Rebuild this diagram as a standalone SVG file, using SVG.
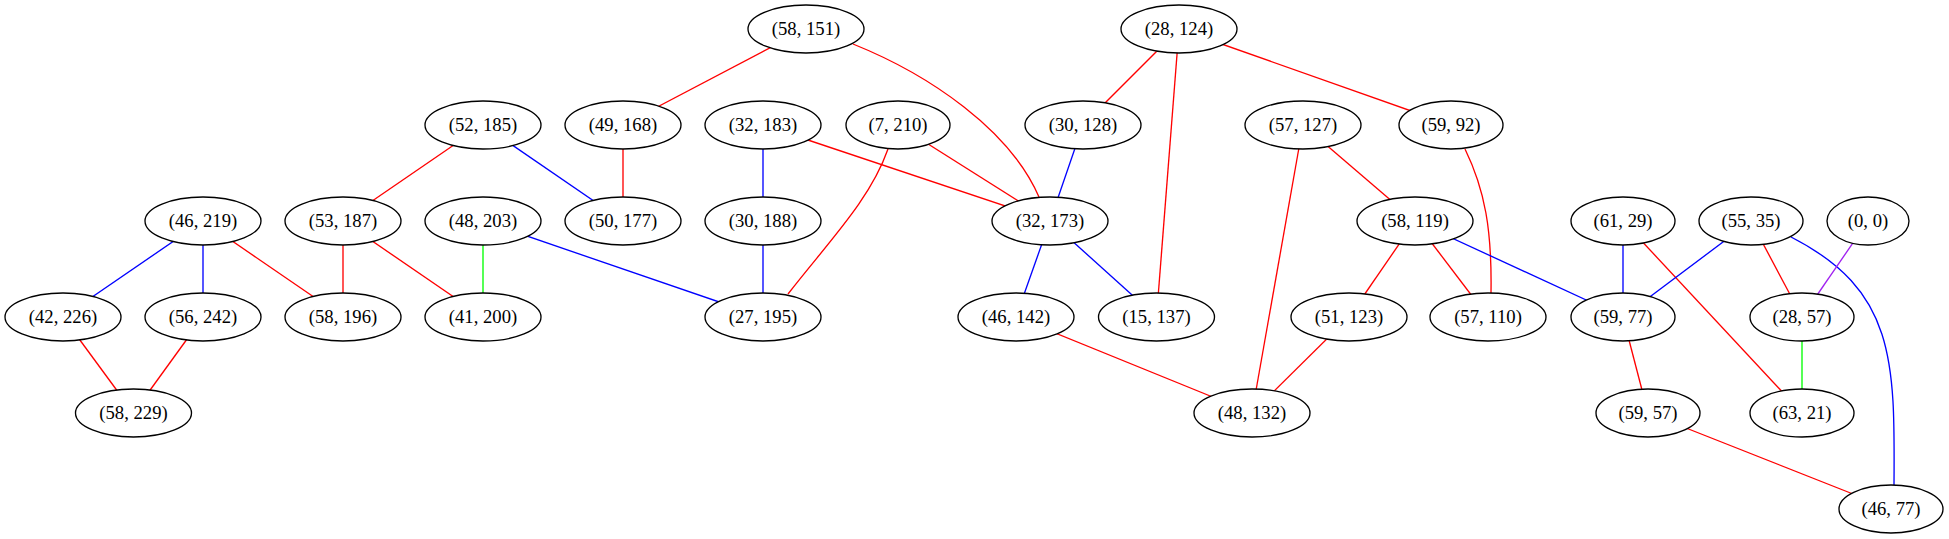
<svg xmlns="http://www.w3.org/2000/svg" width="1949" height="539" viewBox="0 0 1949 539">
<style>
.n ellipse{fill:#fff;stroke:#000;stroke-width:1.33}
.n text{font-family:"Liberation Serif","Times New Roman",serif;font-size:18.67px;text-anchor:middle;fill:#000}
#edges path,#edges line{fill:none;stroke-width:1.33}
.r{stroke:#ff0000}.b{stroke:#0000ff}.g{stroke:#00ff00}.p{stroke:#a020f0}
</style>
<rect width="1949" height="539" fill="#fff"/>
<g id="edges">
<line class="r" x1="806" y1="29" x2="623" y2="125"/>
<path class="r" d="M853,44 C930,75 1010,130 1039,197"/>
<line class="r" x1="1179" y1="29" x2="1083" y2="125"/>
<line class="r" x1="1179" y1="29" x2="1156.5" y2="317"/>
<line class="r" x1="1179" y1="29" x2="1451" y2="125"/>
<line class="r" x1="483" y1="125" x2="343" y2="221"/>
<line class="b" x1="483" y1="125" x2="623" y2="221"/>
<line class="r" x1="623" y1="125" x2="623" y2="221"/>
<line class="b" x1="763" y1="125" x2="763" y2="221"/>
<line class="r" x1="763" y1="125" x2="1050" y2="221"/>
<line class="r" x1="898" y1="125" x2="1050" y2="221"/>
<path class="r" d="M888,149 C870,200 830,240 788,294"/>
<line class="b" x1="1083" y1="125" x2="1050" y2="221"/>
<line class="r" x1="1303" y1="125" x2="1415" y2="221"/>
<line class="r" x1="1303" y1="125" x2="1252" y2="413"/>
<path class="r" d="M1465,149 C1485,190 1492,230 1491,293"/>
<line class="b" x1="203" y1="221" x2="63" y2="317"/>
<line class="b" x1="203" y1="221" x2="203" y2="317"/>
<line class="r" x1="203" y1="221" x2="343" y2="317"/>
<line class="r" x1="343" y1="221" x2="343" y2="317"/>
<line class="r" x1="343" y1="221" x2="483" y2="317"/>
<line class="g" x1="483" y1="221" x2="483" y2="317"/>
<line class="b" x1="483" y1="221" x2="763" y2="317"/>
<line class="b" x1="763" y1="221" x2="763" y2="317"/>
<line class="b" x1="1050" y1="221" x2="1016" y2="317"/>
<line class="b" x1="1050" y1="221" x2="1156.5" y2="317"/>
<line class="r" x1="1415" y1="221" x2="1349" y2="317"/>
<line class="r" x1="1415" y1="221" x2="1488" y2="317"/>
<line class="b" x1="1415" y1="221" x2="1623" y2="317"/>
<line class="b" x1="1623" y1="221" x2="1623" y2="317"/>
<line class="r" x1="1623" y1="221" x2="1802" y2="413"/>
<line class="b" x1="1751" y1="221" x2="1623" y2="317"/>
<line class="r" x1="1751" y1="221" x2="1802" y2="317"/>
<path class="b" d="M1791,237 C1895,290 1895,360 1894,485"/>
<line class="p" x1="1868" y1="221" x2="1802" y2="317"/>
<line class="r" x1="63" y1="317" x2="133.5" y2="413"/>
<line class="r" x1="203" y1="317" x2="133.5" y2="413"/>
<line class="r" x1="1016" y1="317" x2="1252" y2="413"/>
<line class="r" x1="1349" y1="317" x2="1252" y2="413"/>
<line class="r" x1="1623" y1="317" x2="1648" y2="413"/>
<line class="g" x1="1802" y1="317" x2="1802" y2="413"/>
<line class="r" x1="1648" y1="413" x2="1891" y2="509"/>
</g>
<g id="n58_151" class="n"><ellipse cx="806" cy="29" rx="58" ry="24"/><text x="806" y="35">(58, 151)</text></g>
<g id="n28_124" class="n"><ellipse cx="1179" cy="29" rx="58" ry="24"/><text x="1179" y="35">(28, 124)</text></g>
<g id="n52_185" class="n"><ellipse cx="483" cy="125" rx="58" ry="24"/><text x="483" y="131">(52, 185)</text></g>
<g id="n49_168" class="n"><ellipse cx="623" cy="125" rx="58" ry="24"/><text x="623" y="131">(49, 168)</text></g>
<g id="n32_183" class="n"><ellipse cx="763" cy="125" rx="58" ry="24"/><text x="763" y="131">(32, 183)</text></g>
<g id="n7_210" class="n"><ellipse cx="898" cy="125" rx="52" ry="24"/><text x="898" y="131">(7, 210)</text></g>
<g id="n30_128" class="n"><ellipse cx="1083" cy="125" rx="58" ry="24"/><text x="1083" y="131">(30, 128)</text></g>
<g id="n57_127" class="n"><ellipse cx="1303" cy="125" rx="58" ry="24"/><text x="1303" y="131">(57, 127)</text></g>
<g id="n59_92" class="n"><ellipse cx="1451" cy="125" rx="52" ry="24"/><text x="1451" y="131">(59, 92)</text></g>
<g id="n46_219" class="n"><ellipse cx="203" cy="221" rx="58" ry="24"/><text x="203" y="227">(46, 219)</text></g>
<g id="n53_187" class="n"><ellipse cx="343" cy="221" rx="58" ry="24"/><text x="343" y="227">(53, 187)</text></g>
<g id="n48_203" class="n"><ellipse cx="483" cy="221" rx="58" ry="24"/><text x="483" y="227">(48, 203)</text></g>
<g id="n50_177" class="n"><ellipse cx="623" cy="221" rx="58" ry="24"/><text x="623" y="227">(50, 177)</text></g>
<g id="n30_188" class="n"><ellipse cx="763" cy="221" rx="58" ry="24"/><text x="763" y="227">(30, 188)</text></g>
<g id="n32_173" class="n"><ellipse cx="1050" cy="221" rx="58" ry="24"/><text x="1050" y="227">(32, 173)</text></g>
<g id="n58_119" class="n"><ellipse cx="1415" cy="221" rx="58" ry="24"/><text x="1415" y="227">(58, 119)</text></g>
<g id="n61_29" class="n"><ellipse cx="1623" cy="221" rx="52" ry="24"/><text x="1623" y="227">(61, 29)</text></g>
<g id="n55_35" class="n"><ellipse cx="1751" cy="221" rx="52" ry="24"/><text x="1751" y="227">(55, 35)</text></g>
<g id="n0_0" class="n"><ellipse cx="1868" cy="221" rx="41" ry="24"/><text x="1868" y="227">(0, 0)</text></g>
<g id="n42_226" class="n"><ellipse cx="63" cy="317" rx="58" ry="24"/><text x="63" y="323">(42, 226)</text></g>
<g id="n56_242" class="n"><ellipse cx="203" cy="317" rx="58" ry="24"/><text x="203" y="323">(56, 242)</text></g>
<g id="n58_196" class="n"><ellipse cx="343" cy="317" rx="58" ry="24"/><text x="343" y="323">(58, 196)</text></g>
<g id="n41_200" class="n"><ellipse cx="483" cy="317" rx="58" ry="24"/><text x="483" y="323">(41, 200)</text></g>
<g id="n27_195" class="n"><ellipse cx="763" cy="317" rx="58" ry="24"/><text x="763" y="323">(27, 195)</text></g>
<g id="n46_142" class="n"><ellipse cx="1016" cy="317" rx="58" ry="24"/><text x="1016" y="323">(46, 142)</text></g>
<g id="n15_137" class="n"><ellipse cx="1156.5" cy="317" rx="58" ry="24"/><text x="1156.5" y="323">(15, 137)</text></g>
<g id="n51_123" class="n"><ellipse cx="1349" cy="317" rx="58" ry="24"/><text x="1349" y="323">(51, 123)</text></g>
<g id="n57_110" class="n"><ellipse cx="1488" cy="317" rx="58" ry="24"/><text x="1488" y="323">(57, 110)</text></g>
<g id="n59_77" class="n"><ellipse cx="1623" cy="317" rx="52" ry="24"/><text x="1623" y="323">(59, 77)</text></g>
<g id="n28_57" class="n"><ellipse cx="1802" cy="317" rx="52" ry="24"/><text x="1802" y="323">(28, 57)</text></g>
<g id="n58_229" class="n"><ellipse cx="133.5" cy="413" rx="58" ry="24"/><text x="133.5" y="419">(58, 229)</text></g>
<g id="n48_132" class="n"><ellipse cx="1252" cy="413" rx="58" ry="24"/><text x="1252" y="419">(48, 132)</text></g>
<g id="n59_57" class="n"><ellipse cx="1648" cy="413" rx="52" ry="24"/><text x="1648" y="419">(59, 57)</text></g>
<g id="n63_21" class="n"><ellipse cx="1802" cy="413" rx="52" ry="24"/><text x="1802" y="419">(63, 21)</text></g>
<g id="n46_77" class="n"><ellipse cx="1891" cy="509" rx="52" ry="24"/><text x="1891" y="515">(46, 77)</text></g>
</svg>
